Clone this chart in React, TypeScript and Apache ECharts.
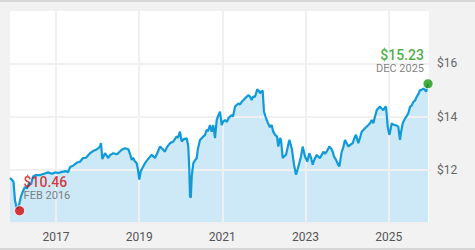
import React, { useEffect, useRef } from "react";
import * as echarts from "echarts";

// Decimal-year dates and fund prices ($)
const dates: number[] = [
  2015.894, 2015.942, 2015.978, 2016.014, 2016.05, 2016.086, 2016.122, 2016.158, 2016.206, 2016.254,
  2016.303, 2016.351, 2016.399, 2016.447, 2016.519, 2016.615, 2016.711, 2016.808, 2016.904, 2016.976,
  2017.048, 2017.144, 2017.241, 2017.289, 2017.337, 2017.409, 2017.505, 2017.577, 2017.649, 2017.722,
  2017.818, 2017.89, 2017.986, 2018.058, 2018.082, 2018.114, 2018.178, 2018.258, 2018.299, 2018.378,
  2018.467, 2018.58, 2018.659, 2018.739, 2018.78, 2018.821, 2018.852, 2018.9, 2018.941, 2018.972,
  2019.003, 2019.037, 2019.092, 2019.141, 2019.213, 2019.302, 2019.381, 2019.429, 2019.501, 2019.549,
  2019.621, 2019.67, 2019.742, 2019.814, 2019.903, 2019.934, 2019.982, 2020.023, 2020.078, 2020.143,
  2020.182, 2020.206, 2020.223, 2020.242, 2020.264, 2020.302, 2020.343, 2020.384, 2020.415, 2020.463,
  2020.543, 2020.583, 2020.624, 2020.656, 2020.704, 2020.745, 2020.783, 2020.824, 2020.865, 2020.896,
  2020.944, 2020.985, 2021.016, 2021.064, 2021.113, 2021.144, 2021.226, 2021.257, 2021.305, 2021.384,
  2021.425, 2021.466, 2021.497, 2021.545, 2021.625, 2021.666, 2021.707, 2021.738, 2021.786, 2021.841,
  2021.882, 2021.906, 2021.942, 2021.971, 2022.002, 2022.038, 2022.067, 2022.099, 2022.147, 2022.188,
  2022.219, 2022.267, 2022.315, 2022.346, 2022.387, 2022.411, 2022.452, 2022.484, 2022.532, 2022.58,
  2022.611, 2022.669, 2022.724, 2022.772, 2022.808, 2022.851, 2022.892, 2022.933, 2022.988, 2023.044,
  2023.092, 2023.133, 2023.174, 2023.205, 2023.27, 2023.301, 2023.349, 2023.429, 2023.469, 2023.51,
  2023.573, 2023.614, 2023.655, 2023.686, 2023.734, 2023.782, 2023.813, 2023.871, 2023.902, 2023.95,
  2024.03, 2024.071, 2024.136, 2024.191, 2024.215, 2024.27, 2024.311, 2024.352, 2024.431, 2024.511,
  2024.552, 2024.593, 2024.631, 2024.672, 2024.713, 2024.744, 2024.792, 2024.828, 2024.871, 2024.912,
  2024.936, 2024.977, 2025.016, 2025.045, 2025.074, 2025.105, 2025.153, 2025.201, 2025.232, 2025.256,
  2025.273, 2025.297, 2025.338, 2025.393, 2025.429, 2025.473, 2025.514, 2025.55, 2025.593, 2025.634,
  2025.675, 2025.718, 2025.754, 2025.79, 2025.834, 2025.874, 2025.899, 2025.947,
];

const prices: number[] = [
  11.69, 11.62, 11.55, 10.85, 10.6, 10.55, 10.75, 11.0, 11.2, 11.35,
  11.3, 11.5, 11.45, 11.75, 11.8, 11.8, 11.85, 11.9, 11.85, 11.9,
  11.88, 11.92, 11.95, 11.9, 12.1, 12.15, 12.27, 12.3, 12.44, 12.45,
  12.62, 12.7, 12.77, 12.87, 13.0, 12.4, 12.62, 12.44, 12.55, 12.62,
  12.58, 12.75, 12.81, 12.77, 12.6, 12.37, 12.45, 12.31, 12.25, 12.0,
  11.63, 11.94, 12.1, 12.25, 12.4, 12.56, 12.44, 12.6, 12.87, 12.8,
  12.68, 12.85, 13.0, 13.05, 13.25, 13.2, 13.43, 13.06, 13.15, 13.18,
  12.87, 12.0, 11.0, 10.95, 11.75, 12.25, 12.35, 12.44, 12.8, 13.12,
  13.25, 13.3, 13.5, 13.45, 13.68, 13.43, 13.68, 13.19, 13.87, 14.0,
  14.18, 13.68, 13.8, 13.87, 13.8, 13.93, 14.06, 14.0, 14.37, 14.49,
  14.45, 14.55, 14.6, 14.68, 14.8, 14.75, 14.62, 14.75, 14.74, 15.02,
  14.95, 14.87, 14.95, 14.96, 14.18, 14.0, 13.87, 13.75, 13.6, 13.68,
  13.45, 13.31, 13.25, 12.87, 13.19, 13.12, 12.44, 12.5, 12.56, 12.9,
  13.12, 12.81, 12.19, 11.81, 12.0, 12.25, 12.5, 12.87, 12.5, 12.31,
  12.62, 12.45, 12.19, 12.35, 12.56, 12.5, 12.44, 12.68, 12.6, 12.68,
  12.87, 12.8, 12.68, 12.5, 12.37, 12.2, 12.12, 12.68, 12.8, 13.12,
  12.87, 12.93, 13.0, 13.25, 13.31, 13.0, 13.2, 13.43, 13.56, 13.68,
  13.75, 13.87, 13.75, 14.0, 14.24, 14.3, 14.37, 14.3, 14.24, 14.35,
  14.37, 13.62, 13.31, 13.5, 13.75, 13.7, 13.68, 13.65, 13.62, 13.3,
  13.12, 13.4, 13.75, 13.93, 14.0, 14.12, 14.37, 14.4, 14.55, 14.6,
  14.74, 14.85, 14.99, 15.0, 15.05, 15.0, 14.93, 15.23,
];

// Highlighted points: low and latest
const highlightDates: number[] = [2016.125, 2025.947];
const highlightValues: number[] = [10.46, 15.23];
const highlightLabels: string[] = ["FEB 2016", "DEC 2025"];
const highlightColors: string[] = ["#d20a0a", "#169a12"];

const xTickYears: number[] = [2017, 2019, 2021, 2023, 2025];
const yShownTicks: number[] = [12, 14, 16];

const FONT = "Roboto, 'Noto Sans', sans-serif";

export default function App() {
  const ref = useRef<HTMLDivElement>(null);

  useEffect(() => {
    if (!ref.current) return;
    const chart = echarts.init(ref.current, undefined, { renderer: "svg" });
    const seriesData = dates.map((d, i) => [d, prices[i]]);

    const option: any = {
      animation: false,
      backgroundColor: "#f2f2f2",
      textStyle: { fontFamily: FONT },
      graphic: [
        { type: "rect", left: 0, top: 0, shape: { width: 475, height: 2 }, style: { fill: "#d6d6d6" }, silent: true },
        { type: "rect", left: 0, top: 248, shape: { width: 475, height: 2 }, style: { fill: "#d6d6d6" }, silent: true },
      ],
      grid: {
        left: 10,
        right: 46,
        top: 10,
        bottom: 27,
        show: true,
        backgroundColor: "#ffffff",
        borderWidth: 0,
      },
      xAxis: {
        type: "value",
        min: 2015.894,
        max: 2025.97,
        axisLine: { show: false },
        axisTick: { show: false },
        splitLine: { show: false },
        axisLabel: {
          customValues: xTickYears,
          formatter: (v: number) => String(v),
          color: "#555",
          fontSize: 12,
          margin: 8,
          fontFamily: FONT,
        },
      },
      yAxis: {
        type: "value",
        position: "right",
        min: 10,
        max: 18,
        interval: 2,
        z: 2,
        axisLine: { show: false },
        axisTick: { show: false },
        splitLine: { show: true, lineStyle: { color: "#f0f0f0", width: 2 } },
        axisLabel: {
          formatter: (v: number) => (yShownTicks.indexOf(v) >= 0 ? "$" + v : ""),
          color: "#666",
          fontSize: 12,
          margin: 8,
          fontFamily: FONT,
        },
      },
      series: [
        {
          type: "line",
          data: seriesData,
          showSymbol: false,
          symbol: "none",
          z: 1,
          silent: true,
          lineStyle: { width: 0, opacity: 0 },
          areaStyle: { color: "#cde9f7", opacity: 1 },
          markLine: {
            silent: true,
            symbol: "none",
            z: 2,
            label: { show: false },
            lineStyle: { color: "#f0f0f0", width: 2, type: "solid" },
            data: xTickYears.map((y) => ({ xAxis: y })),
          },
        },
        {
          type: "line",
          data: seriesData,
          showSymbol: false,
          symbol: "none",
          z: 3,
          silent: true,
          lineStyle: { color: "#0f9ad9", width: 2.2 },
        },
        {
          type: "scatter",
          z: 4,
          silent: true,
          symbolSize: 10,
          data: highlightDates.map((d, i) => ({
            value: [d, highlightValues[i]],
            itemStyle: { color: highlightColors[i], borderColor: "#ffffff", borderWidth: 1 },
            label: {
              show: true,
              position: "top",
              distance: 3,
              align: i === 0 ? "left" : "right",
              offset: [i === 0 ? 4 : -4, 0],
              formatter: "{v|$" + highlightValues[i].toFixed(2) + "}\n{d|" + highlightLabels[i] + "}",
              rich: {
                v: { color: highlightColors[i], fontSize: 14, fontWeight: 500, lineHeight: 15, fontFamily: FONT, align: i === 0 ? "left" : "right" },
                d: { color: "#5f5f5f", fontSize: 11, lineHeight: 13, fontFamily: FONT, align: i === 0 ? "left" : "right" },
              },
            },
          })),
        },
      ],
    };

    chart.setOption(option);
    return () => chart.dispose();
  }, []);

  return (
    <div style={{ position: "fixed", left: 0, top: 0, width: 475, height: 250 }}>
      <div ref={ref} style={{ width: 475, height: 250 }} />
    </div>
  );
}
